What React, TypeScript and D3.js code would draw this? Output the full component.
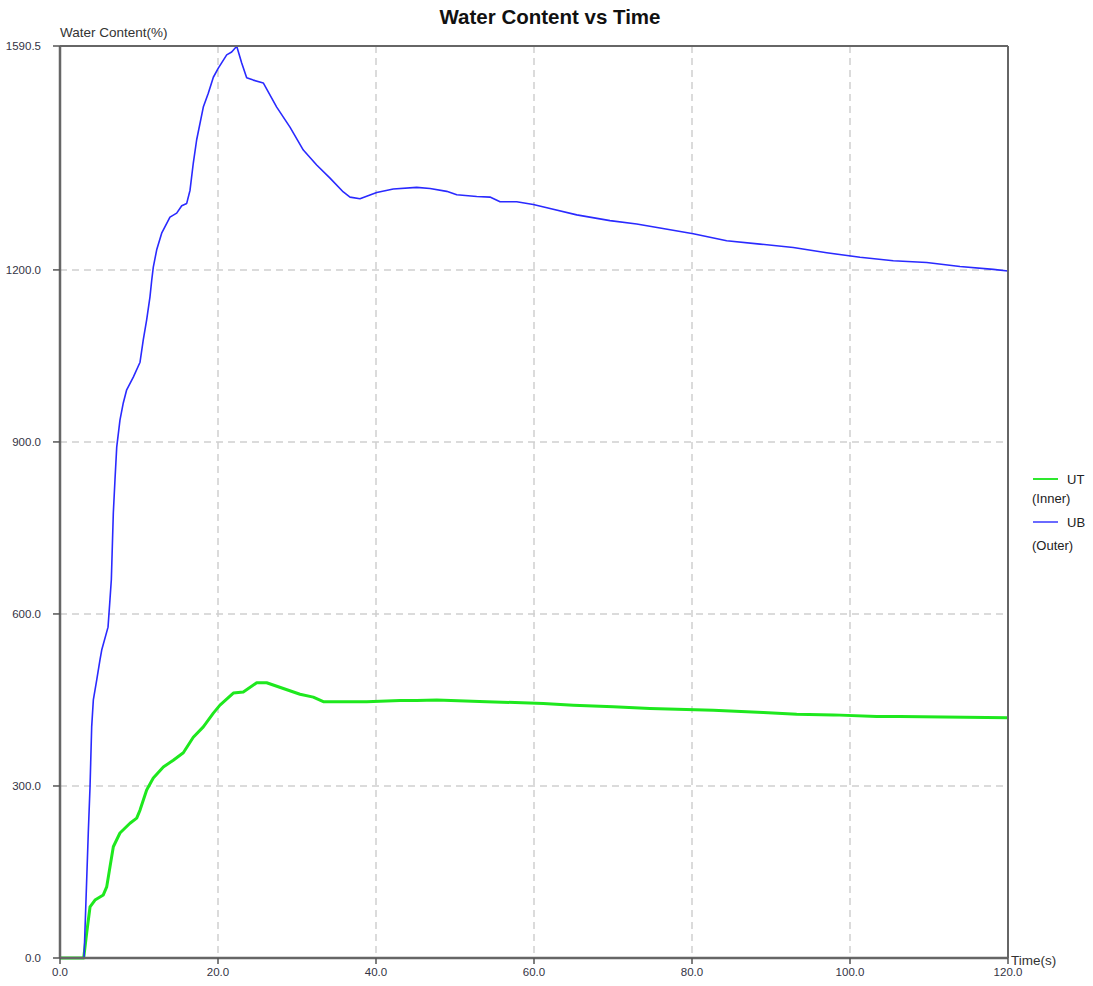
import React from "react";
import * as d3 from "d3";

const ubTime = [0, 3.04, 3.58, 3.8, 4.01, 4.22, 4.65, 5.06, 5.28, 6.08, 6.3, 6.5, 6.75, 6.96, 7.18, 7.59, 8.01, 8.44, 9.28, 10.13, 10.54, 10.97, 11.39, 11.61, 11.81, 12.24, 12.87, 13.92, 14.77, 15.41, 16.04, 16.46, 16.87, 17.3, 18.14, 18.77, 19.41, 20.04, 21.1, 21.73, 22.37, 23.0, 23.63, 24.47, 25.73, 27.43, 29.11, 30.8, 32.49, 34.18, 35.86, 36.71, 37.97, 40.09, 42.19, 45.15, 46.84, 48.95, 50.22, 52.75, 54.43, 55.7, 57.81, 59.91, 62.03, 65.41, 69.62, 73.0, 75.95, 80.16, 84.39, 88.61, 92.82, 97.05, 101.27, 105.48, 109.71, 113.92, 118.14, 120];
const ubValue = [0, 0, 218, 298, 403, 450, 485, 520, 537, 577, 620, 660, 776, 834, 891, 938, 968, 991, 1013, 1039, 1078, 1113, 1153, 1182, 1205, 1235, 1264, 1292, 1299, 1312, 1316, 1339, 1386, 1427, 1484, 1508, 1536, 1552, 1575, 1580, 1590, 1561, 1535, 1531, 1526, 1484, 1449, 1409, 1383, 1360, 1336, 1327, 1324, 1335, 1341, 1344, 1342, 1337, 1331, 1328, 1327, 1319, 1319, 1314, 1307, 1296, 1286, 1280, 1273, 1263, 1251, 1245, 1239, 1230, 1222, 1216, 1213, 1206, 1201, 1198];

const utTime = [0, 3.0, 3.38, 3.8, 4.43, 5.48, 5.91, 6.33, 6.75, 7.59, 8.86, 9.71, 10.13, 10.97, 11.81, 13.08, 14.34, 15.61, 16.87, 18.14, 19.41, 20.25, 21.94, 23.2, 24.9, 26.16, 28.27, 30.38, 32.06, 33.33, 38.82, 43.04, 45.15, 47.68, 54.01, 61.18, 64.97, 70.04, 74.68, 82.7, 89.03, 93.25, 97.89, 103.38, 106.33, 120];
const utValue = [0, 0, 44, 89, 101, 110, 124, 159, 194, 218, 235, 244, 258, 293, 314, 333, 345, 358, 385, 403, 427, 441, 462, 464, 480, 480, 470, 460, 455, 447, 447, 449, 449, 450, 447, 444, 441, 438, 435, 432, 428, 425, 424, 421, 421, 419];

const xTicks = [0, 20, 40, 60, 80, 100, 120];
const yTicks = [0, 300, 600, 900, 1200, 1590.5];

const seriesNames = ["UT", "UB"];
const seriesSubs = ["(Inner)", "(Outer)"];

export default function App() {
  const left = 60, right = 1008, top = 46, bottom = 958;
  const x = d3.scaleLinear().domain([0, 120]).range([left, right]);
  const y = d3.scaleLinear().domain([0, 1590.5]).range([bottom, top]);
  const line = d3.line<[number, number]>().x(d => x(d[0])).y(d => y(d[1]));
  const ub = ubTime.map((t, i) => [t, ubValue[i]] as [number, number]);
  const ut = utTime.map((t, i) => [t, utValue[i]] as [number, number]);
  const font = "Arial, 'Liberation Sans', sans-serif";
  const colors = ["#1ee81e", "#2a2aff"];
  const legendColors = ["#2ee82e", "#6a6aff"];
  return (
    <svg width={1093} height={986} style={{ position: "absolute", left: 0, top: 0, background: "#fff" }} fontFamily={font}>
      <text x={550} y={24} textAnchor="middle" fontSize={20.5} fontWeight="bold" fill="#111">Water Content vs Time</text>
      <text x={60} y={37} fontSize={13.5} fill="#333">Water Content(%)</text>
      {xTicks.slice(1, -1).map(t => (
        <line key={"gx" + t} x1={x(t)} x2={x(t)} y1={top} y2={bottom} stroke="#cfcfcf" strokeWidth={1.5} strokeDasharray="7,5" />
      ))}
      {yTicks.slice(1, -1).map(t => (
        <line key={"gy" + t} x1={left} x2={right} y1={y(t)} y2={y(t)} stroke="#cfcfcf" strokeWidth={1.5} strokeDasharray="7,5" />
      ))}
      <path d={line(ut) || ""} fill="none" stroke={colors[0]} strokeWidth={3} strokeLinejoin="round" />
      <path d={line(ub) || ""} fill="none" stroke={colors[1]} strokeWidth={1.6} strokeLinejoin="round" />
      <line x1={left} x2={right} y1={top} y2={top} stroke="#666" strokeWidth={2} />
      <line x1={right} x2={right} y1={top} y2={bottom} stroke="#666" strokeWidth={2} />
      <line x1={left} x2={left} y1={top} y2={bottom} stroke="#666" strokeWidth={2.5} />
      <line x1={left} x2={right} y1={bottom} y2={bottom} stroke="#666" strokeWidth={2.5} />
      {yTicks.map(t => (
        <g key={"yt" + t}>
          <line x1={left - 7} x2={left} y1={y(t)} y2={y(t)} stroke="#555" strokeWidth={1.5} />
          <text x={left - 19} y={y(t) + 4} textAnchor="end" fontSize={11.5} fill="#334">{t.toFixed(1)}</text>
        </g>
      ))}
      {xTicks.map(t => (
        <g key={"xt" + t}>
          <line x1={x(t)} x2={x(t)} y1={bottom} y2={bottom + 6} stroke="#555" strokeWidth={1.5} />
          <text x={x(t)} y={bottom + 18} textAnchor="middle" fontSize={11.5} fill="#334">{t.toFixed(1)}</text>
        </g>
      ))}
      <text x={1011} y={965} fontSize={13.5} fill="#333">Time(s)</text>
      {seriesNames.map((n, i) => (
        <g key={n}>
          <line x1={1033} x2={1058} y1={479 + i * 43} y2={479 + i * 43} stroke={legendColors[i]} strokeWidth={2} />
          <text x={1067} y={484 + i * 43} fontSize={13} fill="#222">{n}</text>
          <text x={1032} y={503 + i * 47} fontSize={13} fill="#222">{seriesSubs[i]}</text>
        </g>
      ))}
    </svg>
  );
}
